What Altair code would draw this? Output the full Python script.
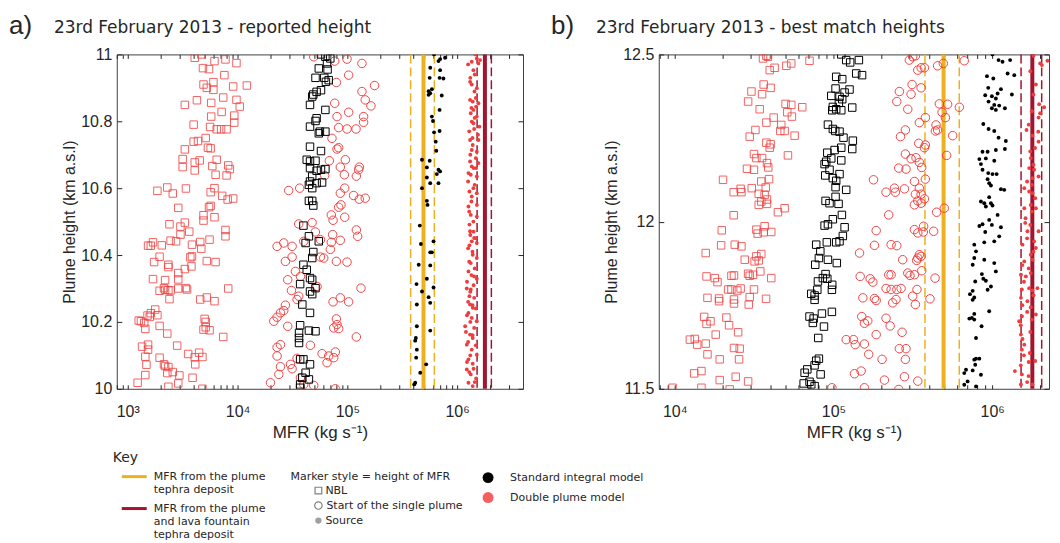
import altair as alt
import pandas as pd

MODELS = ["Standard integral model", "Double plume model"]

# reference MFR from the deposits (kg/s)
tephra_mfr = [4.94e5]
tephra_range = [3.77e5, 6.2e5]
fountain_mfr = [1.79e6]
fountain_range = [1.52e6, 2.05e6]

# ---------------- panel a : (log10 MFR, plume height km) ----------------
a_dp_nbl = [(3.67,11.0),(3.61,10.99),(3.79,10.98),(3.89,10.985),(3.99,10.974),(3.685,10.959),(3.74,10.956),(3.88,10.938),
(3.69,10.91),(3.78,10.917),(3.78,10.894),(3.72,10.90),(3.96,10.904),(4.085,10.907),(3.87,10.871),(3.99,10.864),(4.02,10.844),
(3.52,10.849),(3.63,10.863),(3.76,10.855),(3.855,10.828),(3.76,10.814),(3.81,10.776),(3.85,10.776),(3.90,10.776),(3.75,10.783),
(3.97,10.796),(3.97,10.817),(3.60,10.79),(3.60,10.739),(3.64,10.741),(3.71,10.75),(3.73,10.721),(3.755,10.719),(3.52,10.716),
(3.50,10.663),(3.50,10.687),(3.655,10.683),(3.61,10.677),(3.81,10.685),(3.77,10.666),(3.80,10.64),(3.61,10.653),(3.90,10.638),
(3.915,10.668),(3.93,10.657),(3.27,10.592),(3.36,10.602),(3.41,10.584),(3.53,10.599),(3.79,10.60),(3.755,10.588),(3.86,10.577),
(3.91,10.566),(3.96,10.569),(3.755,10.547),(3.74,10.543),(3.46,10.541),(3.69,10.519),(3.69,10.503),(3.79,10.513),(3.48,10.485),
(3.52,10.497),(3.89,10.475),(3.89,10.456),(3.48,10.461),(3.56,10.47),(3.38,10.492),(3.185,10.428),(3.21,10.428),(3.23,10.438),
(3.31,10.429),(3.39,10.443),(3.44,10.441),(3.585,10.431),(3.66,10.439),(3.745,10.446),(3.67,10.419),(3.585,10.396),(3.57,10.393),
(3.29,10.395),(3.24,10.379),(3.37,10.371),(3.58,10.366),(3.23,10.328),(3.34,10.325),(3.46,10.346),(3.46,10.327),(3.37,10.364),
(3.52,10.358),(3.72,10.382),(3.80,10.379),(3.33,10.301),(3.34,10.296),(3.37,10.295),(3.29,10.293),(3.39,10.294),(3.38,10.268),
(3.53,10.301),(3.54,10.297),(3.46,10.30),(3.66,10.267),(3.72,10.273),(3.79,10.262),(3.915,10.30),(3.69,10.177),(3.71,10.184),
(3.71,10.20),(3.70,10.209),(3.745,10.175),(3.87,10.155),(3.18,10.219),(3.21,10.226),(3.25,10.237),(3.12,10.202),(3.15,10.197),
(3.29,10.188),(3.36,10.165),(3.20,10.215),(3.27,10.22),(3.10,10.204),(3.16,10.179),(3.13,10.126),(3.185,10.132),(3.185,10.117),
(3.16,10.096),(3.29,10.093),(3.33,10.073),(3.34,10.068),(3.36,10.047),(3.41,10.05),(3.37,10.065),(3.45,10.129),(3.55,10.104),
(3.61,10.094),(3.65,10.108),(3.68,10.095),(3.615,10.073),(3.59,10.033),(3.47,10.04),(3.46,10.016),(3.09,10.018),(3.37,10.006),
(3.68,10.0),(3.16,10.041),(3.17,10.072)]

a_si_nbl = [(4.76,11.0),(4.845,10.988),(4.80,10.993),(4.815,10.973),(4.74,10.958),(4.82,10.955),(4.71,10.93),(4.79,10.93),
(4.805,10.918),(4.83,10.923),(4.76,10.893),(4.72,10.888),(4.69,10.88),(4.68,10.874),(4.66,10.849),(4.80,10.834),(4.72,10.809),
(4.71,10.801),(4.66,10.784),(4.75,10.769),(4.80,10.769),(4.74,10.764),(4.66,10.724),(4.76,10.711),(4.63,10.685),(4.66,10.68),
(4.71,10.682),(4.66,10.66),(4.76,10.655),(4.72,10.652),(4.80,10.657),(4.68,10.635),(4.66,10.62),(4.72,10.615),(4.77,10.617),
(4.65,10.61),(4.68,10.60),(4.68,10.562),(4.65,10.562),(4.69,10.548),(4.60,10.488),(4.65,10.456),(4.74,10.441),(4.62,10.436),
(4.69,10.409),(4.68,10.391),(4.60,10.371),(4.63,10.356),(4.66,10.331),(4.68,10.326),(4.57,10.313),(4.71,10.301),(4.66,10.291),
(4.68,10.283),(4.59,10.252),(4.66,10.227),(4.57,10.19),(4.65,10.174),(4.71,10.172),(4.56,10.167),(4.56,10.152),(4.56,10.137),
(4.60,10.088),(4.57,10.088),(4.66,10.073),(4.62,10.048),(4.59,10.033),(4.65,10.028),(4.57,10.013),(4.57,10.003)]

a_dp_start = [(4.694,10.993),(4.885,10.98),(4.997,10.986),(5.133,10.973),(5.012,10.938),(5.248,10.907),(4.90,10.916),(5.133,10.889),
(5.163,10.864),(5.215,10.846),(4.885,10.854),(5.012,10.827),(5.148,10.814),(5.148,10.797),(4.906,10.814),(4.921,10.781),
(4.997,10.777),(5.079,10.777),(4.86,10.749),(4.921,10.721),(4.906,10.717),(4.982,10.685),(5.109,10.663),(5.103,10.655),
(5.082,10.636),(4.936,10.663),(4.973,10.64),(4.836,10.682),(4.794,10.638),(4.976,10.60),(4.936,10.585),(5.057,10.578),
(5.109,10.567),(5.163,10.57),(4.942,10.55),(4.921,10.543),(4.854,10.52),(4.976,10.513),(4.87,10.504),(4.557,10.493),
(4.679,10.497),(5.082,10.475),(5.094,10.456),(4.866,10.461),(4.936,10.444),(4.854,10.438),(4.709,10.469),(4.755,10.446),
(4.603,10.441),(4.421,10.436),(4.36,10.426),(4.497,10.426),(4.845,10.417),(4.785,10.391),(4.755,10.394),(4.90,10.381),
(4.997,10.379),(4.436,10.381),(4.497,10.394),(4.527,10.351),(4.573,10.336),(4.457,10.326),(4.724,10.306),(4.491,10.294),
(5.124,10.301),(4.557,10.277),(4.542,10.267),(4.936,10.272),(5.012,10.26),(4.87,10.26),(4.436,10.25),(4.391,10.227),
(4.36,10.214),(4.421,10.234),(4.457,10.187),(4.33,10.202),(4.90,10.209),(4.906,10.192),(4.921,10.18),(4.876,10.182),
(5.082,10.155),(4.663,10.13),(4.391,10.132),(4.36,10.124),(4.36,10.098),(4.542,10.091),(4.77,10.105),(4.83,10.098),
(4.891,10.11),(4.876,10.093),(4.391,10.066),(4.482,10.073),(4.497,10.06),(4.815,10.078),(4.376,10.043),(4.30,10.018),
(4.603,10.013),(4.891,10.0),(4.694,10.01),(4.573,10.033),(4.466,10.593),(4.566,10.60)]

a_si_src = [(5.79,11.0),(5.845,10.986),(5.89,10.99),(5.83,10.98),(5.755,10.96),(5.845,10.953),(5.75,10.93),(5.84,10.93),
(5.875,10.928),(5.77,10.896),(5.74,10.89),(5.755,10.884),(5.86,10.877),(5.74,10.879),(5.84,10.834),(5.77,10.814),(5.78,10.801),
(5.84,10.771),(5.79,10.767),(5.805,10.739),(5.81,10.712),(5.68,10.685),(5.75,10.682),(5.724,10.662),(5.83,10.655),(5.845,10.65),
(5.815,10.642),(5.724,10.632),(5.755,10.615),(5.83,10.615),(5.68,10.60),(5.724,10.562),(5.73,10.55),(5.66,10.488),(5.67,10.433),
(5.785,10.441),(5.755,10.408),(5.77,10.408),(5.65,10.371),(5.755,10.369),(5.63,10.313),(5.724,10.329),(5.68,10.291),(5.785,10.303),
(5.74,10.274),(5.755,10.257),(5.633,10.252),(5.633,10.187),(5.755,10.174),(5.624,10.152),(5.618,10.144),(5.633,10.117),
(5.627,10.093),(5.718,10.073),(5.664,10.048),(5.618,10.018),(5.609,10.013)]

a_dp_src = [(6.164,11.0),(6.179,10.988),(6.209,10.983),(6.133,10.978),(6.194,10.973),(6.148,10.953),(6.118,10.918),(6.133,10.91),
(6.179,10.899),(6.158,10.889),(6.118,10.864),(6.142,10.859),(6.194,10.854),(6.173,10.844),(6.148,10.834),(6.124,10.824),
(6.179,10.814),(6.133,10.799),(6.148,10.794),(6.203,10.784),(6.155,10.777),(6.118,10.744),(6.194,10.744),(6.142,10.729),
(6.133,10.714),(6.179,10.709),(6.118,10.68),(6.194,10.675),(6.133,10.665),(6.173,10.66),(6.103,10.645),(6.124,10.64),
(6.179,10.635),(6.148,10.60),(6.112,10.59),(6.179,10.585),(6.133,10.575),(6.103,10.545),(6.124,10.52),(6.179,10.515),
(6.148,10.50),(6.112,10.491),(6.118,10.471),(6.155,10.451),(6.133,10.441),(6.179,10.436),(6.112,10.429),(6.142,10.401),
(6.179,10.391),(6.124,10.376),(6.103,10.351),(6.155,10.336),(6.179,10.329),(6.088,10.30),(6.124,10.297),(6.112,10.277),
(6.155,10.272),(6.118,10.252),(6.142,10.242),(6.103,10.227),(6.133,10.212),(6.179,10.202),(6.073,10.187),(6.155,10.182),
(6.118,10.162),(6.142,10.152),(6.088,10.132),(6.133,10.117),(6.179,10.102),(6.103,10.088),(6.142,10.075),(6.088,10.058),
(6.124,10.043),(6.173,10.031),(6.103,10.018),(6.142,10.008),(6.10,10.97),(6.16,10.94),(6.12,10.93),(6.17,10.87),(6.13,10.84),
(6.16,10.81),(6.11,10.77),(6.19,10.76),(6.14,10.75),(6.12,10.70),(6.17,10.69),(6.15,10.66),(6.10,10.62),(6.16,10.61),
(6.13,10.56),(6.18,10.55),(6.11,10.53),(6.15,10.47),(6.12,10.46),(6.17,10.45),(6.10,10.42),(6.14,10.41),(6.11,10.38),
(6.16,10.36),(6.13,10.34),(6.09,10.32),(6.15,10.31),(6.12,10.29),(6.10,10.26),(6.14,10.25),(6.17,10.24),(6.09,10.22),
(6.12,10.20),(6.08,10.17),(6.14,10.16),(6.10,10.14),(6.17,10.13),(6.12,10.10),(6.09,10.08),(6.15,10.06),(6.11,10.05),(6.16,10.02)]

# ---------------- panel b : (log10 MFR, plume height km) ----------------
b_dp_nbl = [(4.577,12.496),(4.556,12.488),(4.587,12.493),(4.629,12.46),(4.598,12.453),(4.703,12.466),(4.734,12.473),(4.849,12.481),
(4.56,12.41),(4.604,12.40),(4.483,12.389),(4.55,12.381),(4.462,12.359),(4.698,12.352),(4.734,12.349),(4.803,12.342),(4.535,12.336),
(4.709,12.327),(4.738,12.314),(4.623,12.311),(4.577,12.296),(4.508,12.274),(4.671,12.289),(4.665,12.271),(4.692,12.271),
(4.755,12.257),(4.472,12.254),(4.577,12.236),(4.604,12.231),(4.598,12.221),(4.499,12.202),(4.713,12.198),(4.514,12.19),
(4.55,12.19),(4.581,12.175),(4.589,12.162),(4.455,12.158),(4.499,12.155),(4.304,12.125),(4.545,12.12),(4.594,12.127),
(4.485,12.10),(4.573,12.102),(4.415,12.098),(4.42,12.088),(4.371,12.088),(4.529,12.083),(4.566,12.08),(4.581,12.066),
(4.545,12.06),(4.529,12.05),(4.581,12.053),(4.692,12.04),(4.65,12.028),(4.371,12.019),(4.296,11.974),(4.514,11.976),
(4.566,11.986),(4.522,11.964),(4.56,11.968),(4.608,11.969),(4.292,11.929),(4.378,11.931),(4.42,11.926),(4.195,11.906),
(4.545,11.903),(4.514,11.896),(4.503,11.881),(4.441,11.886),(4.529,11.884),(4.539,11.851),(4.20,11.836),(4.252,11.831),
(4.269,11.819),(4.357,11.838),(4.373,11.839),(4.462,11.844),(4.472,11.838),(4.493,11.841),(4.608,11.831),(4.336,11.797),
(4.357,11.797),(4.394,11.794),(4.415,11.80),(4.499,11.797),(4.206,11.772),(4.279,11.77),(4.279,11.762),(4.373,11.767),
(4.373,11.755),(4.472,11.774),(4.466,11.752),(4.575,11.769),(4.185,11.715),(4.225,11.702),(4.20,11.694),(4.325,11.713),
(4.342,11.69),(4.258,11.662),(4.399,11.669),(4.095,11.647),(4.126,11.649),(4.141,11.632),(4.195,11.635),(4.373,11.622),
(4.409,11.62),(4.206,11.603),(4.283,11.588),(4.405,11.588),(4.122,11.546),(4.168,11.553),(4.283,11.526),(4.384,11.536),
(4.462,11.522),(3.986,11.503),(4.168,11.503),(4.346,11.498)]

b_si_nbl = [(5.049,12.50),(5.08,12.483),(5.105,12.476),(5.143,12.443),(5.017,12.433),(5.055,12.426),(5.013,12.398),(5.101,12.395),
(5.07,12.386),(5.038,12.373),(4.986,12.376),(5.055,12.366),(5.034,12.355),(4.996,12.343),(5.118,12.341),(5.017,12.336),
(5.049,12.333),(4.992,12.333),(4.965,12.29),(4.996,12.277),(5.011,12.271),(5.038,12.269),(5.063,12.251),(5.122,12.242),
(5.007,12.214),(5.049,12.221),(5.118,12.217),(4.961,12.206),(4.986,12.189),(4.954,12.179),(5.049,12.183),(4.944,12.172),
(4.975,12.155),(5.038,12.142),(4.948,12.138),(4.996,12.13),(5.017,12.122),(5.013,12.103),(5.08,12.095),(4.95,12.062),
(4.975,12.055),(5.032,12.053),(5.013,12.074),(5.053,12.02),(4.996,12.007),(4.944,11.988),(4.965,11.992),(5.07,11.983),
(5.059,11.957),(5.038,11.941),(5.017,11.938),(4.958,11.938),(4.891,11.931),(4.917,11.911),(4.908,11.891),(4.965,11.886),
(4.885,11.871),(5.021,11.876),(4.95,11.843),(4.933,11.831),(4.961,11.829),(4.902,11.821),(4.992,11.811),(4.99,11.796),
(4.898,11.796),(4.86,11.784),(4.881,11.779),(4.881,11.766),(4.849,11.716),(4.875,11.71),(4.87,11.697),(4.927,11.725),
(4.99,11.73),(4.94,11.686),(4.904,11.652),(4.908,11.59),(4.891,11.584),(4.881,11.57),(4.835,11.558),(4.818,11.548),
(4.919,11.543),(4.849,11.521),(4.812,11.516),(4.881,11.508),(4.86,11.513),(5.16,12.483),(5.18,12.438)]

b_dp_start = [(5.478,12.483),(5.499,12.493),(5.516,12.496),(5.531,12.453),(5.573,12.46),(5.552,12.46),(5.656,12.466),(5.692,12.473),
(5.824,12.481),(5.495,12.41),(5.415,12.389),(5.489,12.381),(5.552,12.40),(5.399,12.359),(5.468,12.336),(5.667,12.352),
(5.719,12.351),(5.793,12.342),(5.684,12.327),(5.705,12.311),(5.541,12.296),(5.579,12.311),(5.646,12.289),(5.656,12.274),
(5.642,12.271),(5.751,12.257),(5.453,12.274),(5.422,12.254),(5.537,12.234),(5.579,12.229),(5.573,12.221),(5.713,12.198),
(5.453,12.202),(5.489,12.188),(5.52,12.191),(5.541,12.177),(5.556,12.162),(5.411,12.16),(5.457,12.157),(5.252,12.125),
(5.51,12.12),(5.579,12.127),(5.447,12.098),(5.384,12.10),(5.331,12.088),(5.39,12.088),(5.541,12.10),(5.552,12.082),
(5.516,12.082),(5.573,12.068),(5.531,12.062),(5.552,12.055),(5.51,12.05),(5.65,12.028),(5.698,12.04),(5.348,12.02),
(5.269,11.973),(5.51,11.976),(5.531,11.966),(5.568,11.986),(5.566,11.969),(5.631,11.971),(5.258,11.929),(5.363,11.931),
(5.399,11.928),(5.164,11.906),(5.436,11.886),(5.531,11.891),(5.541,11.901),(5.552,11.896),(5.524,11.884),(5.168,11.836),
(5.231,11.829),(5.248,11.819),(5.348,11.841),(5.363,11.841),(5.468,11.846),(5.482,11.839),(5.51,11.841),(5.556,11.853),
(5.64,11.831),(5.331,11.80),(5.363,11.797),(5.399,11.797),(5.426,11.80),(5.526,11.797),(5.185,11.772),(5.258,11.77),
(5.269,11.764),(5.373,11.757),(5.394,11.767),(5.499,11.777),(5.516,11.752),(5.608,11.769),(5.178,11.716),(5.195,11.696),
(5.216,11.703),(5.331,11.711),(5.357,11.688),(5.269,11.662),(5.432,11.669),(5.08,11.647),(5.126,11.647),(5.137,11.632),
(5.195,11.634),(5.222,11.603),(5.415,11.62),(5.457,11.62),(5.306,11.588),(5.453,11.588),(5.132,11.545),(5.174,11.553),
(5.321,11.526),(5.447,11.536),(5.531,11.523),(5.195,11.503),(5.411,11.498),(4.99,11.503)]

b_si_src = [(6.002,12.50),(6.04,12.483),(6.065,12.478),(6.113,12.483),(6.139,12.438),(6.097,12.443),(5.967,12.435),(6.007,12.428),
(5.975,12.40),(6.055,12.396),(6.034,12.383),(5.956,12.378),(5.998,12.375),(6.023,12.368),(6.124,12.38),(5.977,12.359),
(6.013,12.349),(6.044,12.347),(5.998,12.339),(6.08,12.339),(6.023,12.334),(5.944,12.292),(5.977,12.277),(6.013,12.271),
(6.04,12.251),(6.086,12.241),(6.08,12.217),(6.023,12.214),(5.939,12.209),(5.971,12.209),(5.96,12.189),(5.919,12.187),
(6.013,12.182),(5.929,12.172),(5.939,12.155),(5.975,12.145),(6.002,12.142),(6.028,12.142),(5.971,12.127),(5.981,12.115),
(5.992,12.108),(6.055,12.097),(6.076,12.095),(5.981,12.073),(5.929,12.06),(5.95,12.055),(5.992,12.055),(6.002,12.048),
(5.96,12.045),(6.034,12.02),(5.981,12.005),(5.939,11.992),(5.919,11.987),(5.998,11.99),(6.055,11.983),(5.956,11.969),
(6.044,11.956),(6.013,11.941),(5.95,11.938),(5.887,11.931),(5.898,11.911),(5.887,11.891),(5.877,11.871),(5.95,11.886),
(6.013,11.876),(6.023,11.851),(5.935,11.843),(5.944,11.829),(5.893,11.821),(5.96,11.823),(5.992,11.806),(5.971,11.796),
(5.877,11.793),(5.86,11.783),(5.887,11.773),(5.877,11.766),(5.981,11.732),(5.887,11.724),(5.872,11.712),(5.856,11.71),
(5.887,11.707),(5.933,11.687),(5.898,11.652),(5.898,11.59),(5.919,11.59),(5.887,11.587),(5.893,11.572),(5.835,11.557),
(5.824,11.547),(5.877,11.555),(5.929,11.542),(5.845,11.522),(5.824,11.512),(5.898,11.507)]

b_dp_src = [(6.26,12.496),(6.302,12.473),(6.348,12.481),(6.313,12.468),(6.275,12.41),(6.296,12.351),(6.327,12.342),(6.302,12.324),
(6.292,12.311),(6.216,12.274),(6.29,12.269),(6.254,12.257),(6.292,12.239),(6.243,12.19),(6.233,12.16),(6.264,12.155),
(6.254,12.13),(6.292,12.135),(6.202,12.10),(6.233,12.09),(6.254,12.085),(6.271,12.07),(6.243,12.05),(6.25,12.03),(6.275,12.04),
(6.222,11.971),(6.292,11.971),(6.264,11.941),(6.191,11.931),(6.243,11.901),(6.254,11.886),(6.202,11.881),(6.181,11.841),
(6.212,11.836),(6.243,11.846),(6.187,11.797),(6.233,11.801),(6.254,11.794),(6.181,11.772),(6.222,11.762),(6.243,11.744),
(6.187,11.717),(6.17,11.702),(6.25,11.707),(6.181,11.662),(6.191,11.649),(6.202,11.632),(6.187,11.617),(6.237,11.607),
(6.143,11.553),(6.187,11.543),(6.229,11.538),(6.181,11.513),(6.254,11.513),(6.271,11.583),(6.285,11.801),(6.275,11.722),
(6.208,11.996),(6.202,12.04),(6.275,11.921),(6.24,12.45),(6.26,12.38),(6.25,12.33),(6.23,12.29),(6.27,12.22),(6.24,12.21),
(6.26,12.17),(6.22,12.12),(6.25,12.11),(6.21,12.01),(6.24,11.99),(6.22,11.95),(6.26,11.91),(6.19,11.87),(6.23,11.86),
(6.20,11.82),(6.26,11.78),(6.19,11.75),(6.22,11.73),(6.18,11.69),(6.24,11.67),(6.20,11.60),(6.23,11.58),(6.18,11.57),(6.22,11.52)]

# ---------------- styling ----------------
INK = "#262626"
RED = "#F03C3C"
YEL = "#EDB120"
DRED = "#A2142F"
AXF = "Liberation Sans"
TXF = "DejaVu Sans"
SUP = {3: "\u00b3", 4: "\u2074", 5: "\u2075", 6: "\u2076"}
LBL = " : ".join(f"datum.value == {10 ** e} ? '10{SUP[e]}'" for e in range(3, 7)) + " : ''"
OX, OY = 116, 53          # canvas position of panel a plot origin
PH = 335                  # plot height


def table(pairs, model):
    return pd.DataFrame({"mfr": [10 ** p[0] for p in pairs],
                         "height": [p[1] for p in pairs],
                         "model": model})


def one():
    return pd.DataFrame({"k": [0]})


def text(s, x, y, size, font=TXF, align="left", baseline="middle"):
    return alt.Chart(pd.DataFrame({"t": [s]})).mark_text(
        align=align, baseline=baseline, font=font, fontSize=size, color=INK
    ).encode(text="t:N", x=alt.value(x), y=alt.value(y))


color_scale = alt.Scale(domain=MODELS, range=["#000000", RED])


def panel(dp_nbl, si_nbl, dp_start, si_src, dp_src, xdom, ydom, yvals, w, letter, title, extras):
    xt = [k * 10.0 ** e for e in range(2, 7) for k in range(1, 10) if xdom[0] <= k * 10.0 ** e <= xdom[1]]
    xs = alt.Scale(type="log", domain=xdom, nice=False)
    ys = alt.Scale(domain=ydom, nice=False, zero=False)
    common = dict(grid=False, domain=False, tickColor=INK, labelColor=INK, titleColor=INK,
                  labelFont=AXF, titleFont=AXF, titleFontWeight="normal")
    ax_bottom = alt.Axis(orient="bottom", values=xt, labelExpr=LBL, labelOverlap=False, labelFlush=False,
                         labelFontSize=16, title="MFR (kg s\u207b\u00b9)", titleFontSize=17,
                         offset=-4, tickSize=4, labelPadding=15, titlePadding=5, **common)
    ax_top = alt.Axis(orient="top", values=xt, labels=False, title="", offset=-4, tickSize=4, **common)
    ax_left = alt.Axis(orient="left", values=yvals, format=".3~g", labelFontSize=16,
                       title="Plume height (km a.s.l)", titleFontSize=16,
                       offset=-5, tickSize=5, labelPadding=5, titlePadding=3, **common)
    ax_right = alt.Axis(orient="right", values=yvals, labels=False, title="", offset=-5, tickSize=5, **common)

    def rule(vals, color, width, axis, dash=None):
        kw = {"strokeDash": dash} if dash else {}
        return alt.Chart(pd.DataFrame({"mfr": vals})).mark_rule(color=color, strokeWidth=width, **kw).encode(
            x=alt.X("mfr:Q", scale=xs, axis=axis))

    layers = [
        rule(tephra_mfr, YEL, 4, ax_bottom),
        rule(tephra_range, YEL, 1.5, None, [9, 4]),
        rule(fountain_mfr, DRED, 4, None),
        rule(fountain_range, DRED, 1.5, None, [9, 4]),
    ]
    circ = table(dp_start, MODELS[1])
    layers.append(alt.Chart(circ).mark_point(shape="circle", filled=False, size=72, strokeWidth=1,
                                             color=RED, opacity=0.95, clip=True).encode(
        x=alt.X("mfr:Q", scale=xs, axis=ax_top),
        y=alt.Y("height:Q", scale=ys, axis=ax_right)))
    sq = pd.concat([table(dp_nbl, MODELS[1]), table(si_nbl, MODELS[0])])
    layers.append(alt.Chart(sq).mark_point(shape="square", filled=False, size=56, strokeWidth=1, clip=True).encode(
        x=alt.X("mfr:Q", scale=xs, axis=None),
        y=alt.Y("height:Q", scale=ys, axis=ax_left),
        color=alt.Color("model:N", scale=color_scale, legend=None),
        opacity=alt.Opacity("model:N", scale=alt.Scale(domain=MODELS, range=[1.0, 0.8]), legend=None)))
    dots = pd.concat([table(dp_src, MODELS[1]), table(si_src, MODELS[0])])
    layers.append(alt.Chart(dots).mark_circle(size=15, opacity=1, clip=True).encode(
        x=alt.X("mfr:Q", scale=xs, axis=None),
        y=alt.Y("height:Q", scale=ys, axis=None),
        color=alt.Color("model:N", scale=color_scale, legend=None)))
    layers.append(text(letter, -108, -20, 26, font=AXF, baseline="alphabetic"))
    layers.append(text(title, -63, -21, 17, baseline="alphabetic"))
    layers += extras
    return alt.layer(*layers).resolve_axis(x="independent", y="independent").properties(width=w, height=PH)


# ---------------- key (placed below panel a) ----------------
def kp(shape, x, y, size, filled, color):
    return alt.Chart(one()).mark_point(shape=shape, filled=filled, size=size, color=color,
                                       opacity=1, strokeWidth=1.2).encode(x=alt.value(x - OX), y=alt.value(y - OY))


def kt(s, x, y, size=11):
    return text(s, x - OX, y - OY, size)


def ksw(color, y):
    return alt.Chart(one()).mark_rule(color=color, strokeWidth=3).encode(
        x=alt.value(121 - OX), x2=alt.value(146 - OX), y=alt.value(y - OY))


key = [
    kt("Key", 112, 457, 14),
    ksw(YEL, 476), kt("MFR from the plume", 153, 476), kt("tephra deposit", 153, 489),
    ksw(DRED, 508), kt("MFR from the plume", 153, 508), kt("and lava fountain", 153, 521), kt("tephra deposit", 153, 534),
    kt("Marker style = height of MFR", 290, 476),
    kp("square", 318, 490, 45, False, "#808080"), kt("NBL", 325, 490),
    kp("circle", 318, 505, 55, False, "#808080"), kt("Start of the single plume", 326, 505),
    kp("circle", 318, 520, 40, True, "#a0a0a0"), kt("Source", 325, 520),
    kp("circle", 488, 477, 120, True, "#000000"), kt("Standard integral model", 510, 477),
    kp("circle", 488, 497, 120, True, "#F26060"), kt("Double plume model", 510, 497),
    alt.Chart(one()).mark_rect(opacity=0, color="white").encode(
        x=alt.value(-OX), x2=alt.value(1060 - OX), y=alt.value(-OY), y2=alt.value(543 - OY)),
]

pa = panel(a_dp_nbl, a_si_nbl, a_dp_start, a_si_src, a_dp_src, [10 ** 2.9, 10 ** 6.6], [10, 11],
           [10, 10.2, 10.4, 10.6, 10.8, 11], 407, "a)", "23rd February 2013 - reported height", key)
pb = panel(b_dp_nbl, b_si_nbl, b_dp_start, b_si_src, b_dp_src, [10 ** 3.899, 10 ** 6.358], [11.5, 12.5],
           [11.5, 12, 12.5], 391, "b)", "23rd February 2013 - best match heights", [])

chart = alt.hconcat(pa, pb, spacing=136, bounds="flush").properties(padding=0).configure_view(
    stroke="#404040", strokeWidth=1)

chart.save("out.html", embed_options={"renderer": "svg", "actions": False})
